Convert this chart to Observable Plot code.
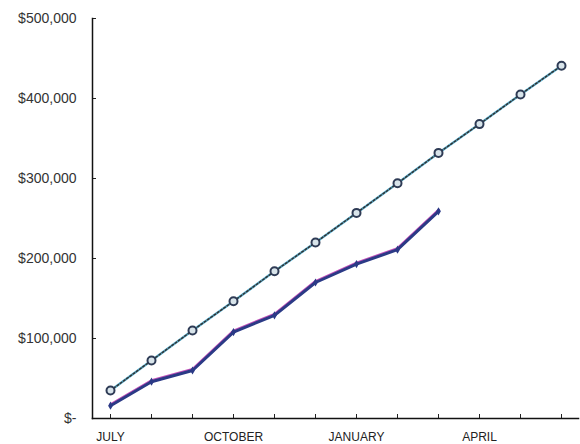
<!DOCTYPE html>
<html><head><meta charset="utf-8">
<script src="https://cdn.jsdelivr.net/npm/d3@7"></script>
<script src="https://cdn.jsdelivr.net/npm/@observablehq/plot@0.6"></script>
<style>body{margin:0;background:#fff}</style>
</head><body><div id="chart"></div>
<script>
const months = ["JUL","AUG","SEP","OCT","NOV","DEC","JAN","FEB","MAR","APR","MAY","JUN"];
const monthLabels = {JUL:"JULY", OCT:"OCTOBER", JAN:"JANUARY", APR:"APRIL"};
const targetValues = [35000, 72500, 110000, 146500, 184000, 220000, 257000, 294000, 332000, 368000, 405000, 441000];
const actualValues = [16000, 46000, 60000, 108000, 129000, 170000, 193000, 211000, 259000];
const yTicks = [0, 100000, 200000, 300000, 400000, 500000];

const target = months.map((m,i)=>({m, v: targetValues[i]}));
const actual = actualValues.map((v,i)=>({m: months[i], v}));
const fmt = d => d === 0 ? "$-" : "$" + d3.format(",")(d);

const chart = Plot.plot({
  width: 580, height: 444,
  marginLeft: 92, marginTop: 18, marginBottom: 26, marginRight: 2,
  style: {fontFamily: "'Liberation Sans', Arial, sans-serif", background: "#fff"},
  x: {type: "point", domain: months, padding: 0.39, label: null},
  y: {domain: [0, 500000], label: null},
  marks: [
    Plot.axisY({ticks: yTicks, tickFormat: fmt, tickSize: 0, tickPadding: 16, fontSize: 14, color: "#333", label: null, style: {letterSpacing: "0.3px"}}),
    Plot.axisY({ticks: yTicks, text: null, tickSize: 4, dx: 4, stroke: "#222", label: null}),
    Plot.axisX({tickFormat: d => monthLabels[d] || "", tickSize: 0, tickPadding: 14, fontSize: 12, color: "#222", label: null, style: {letterSpacing: "0.2px"}}),
    Plot.axisX({text: null, tickSize: 4, dy: -4, stroke: "#222", label: null}),
    Plot.frame({anchor: "left", stroke: "#111", strokeWidth: 1.5}),
    Plot.frame({anchor: "bottom", stroke: "#111", strokeWidth: 1.5}),
    Plot.line(target, {x: "m", y: "v", stroke: "#5ab4d6", strokeWidth: 2.5}),
    Plot.line(target, {x: "m", y: "v", stroke: "#333", strokeWidth: 1.5, strokeDasharray: "2,2"}),
    Plot.dot(target, {x: "m", y: "v", r: 4, stroke: "#2e3b55", strokeWidth: 2, fill: "#d8e4ea"}),
    Plot.line(actual, {x: "m", y: "v", stroke: "#c04fb8", strokeWidth: 3, dy: -1}),
    Plot.line(actual, {x: "m", y: "v", stroke: "#2b3a86", strokeWidth: 3}),
    Plot.dot(actual, {x: "m", y: "v", r: 2.5, symbol: "diamond", fill: "#2b3a86"})
  ]
});
document.getElementById("chart").appendChild(chart);
</script>
</body></html>
